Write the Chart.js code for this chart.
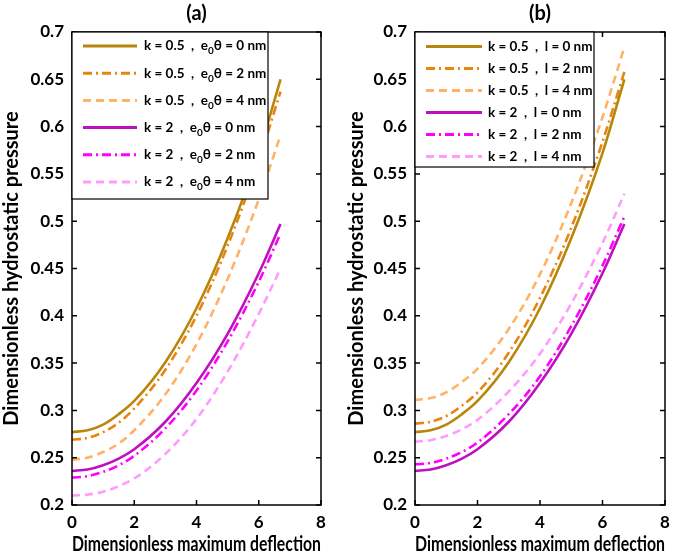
<!DOCTYPE html>
<html>
<head>
<meta charset="utf-8">
<script src="https://cdn.jsdelivr.net/npm/chart.js@4/dist/chart.umd.min.js"></script>
<style>
  body { margin: 0; background: #fff; }
  #wrap { position: relative; width: 685px; height: 557px; }
  canvas { position: absolute; top: 0; }
</style>
</head>
<body>
<div id="wrap">
  <canvas id="chartA" width="345" height="557" style="left:0"></canvas>
  <canvas id="chartB" width="340" height="557" style="left:345px"></canvas>
</div>
<script>
// deflection values (x)
var xVals = [0, 0.5, 1, 1.5, 2, 3, 4, 5, 6, 6.7];
var xTicks = [0, 2, 4, 6, 8];
var yTicks = [0.2, 0.25, 0.3, 0.35, 0.4, 0.45, 0.5, 0.55, 0.6, 0.65, 0.7];

// panel (a): nonlocal parameter e0θ
var aK05E0 = [0.277, 0.279, 0.285, 0.296, 0.310, 0.351, 0.408, 0.482, 0.572, 0.650];
var aK05E2 = [0.269, 0.271, 0.277, 0.287, 0.302, 0.343, 0.400, 0.474, 0.564, 0.637];
var aK05E4 = [0.248, 0.250, 0.256, 0.265, 0.279, 0.317, 0.370, 0.439, 0.523, 0.591];
var aK2E0 = [0.236, 0.2375, 0.242, 0.249, 0.259, 0.288, 0.329, 0.381, 0.445, 0.497];
var aK2E2 = [0.229, 0.2305, 0.235, 0.242, 0.252, 0.281, 0.321, 0.373, 0.436, 0.487];
var aK2E4 = [0.210, 0.211, 0.214, 0.220, 0.228, 0.254, 0.291, 0.341, 0.402, 0.450];

// panel (b): length scale l
var bK05L0 = [0.277, 0.279, 0.285, 0.296, 0.310, 0.351, 0.408, 0.482, 0.572, 0.650];
var bK05L2 = [0.286, 0.288, 0.294, 0.305, 0.319, 0.361, 0.419, 0.493, 0.584, 0.658];
var bK05L4 = [0.311, 0.313, 0.319, 0.330, 0.344, 0.386, 0.444, 0.519, 0.610, 0.684];
var bK2L0 = [0.236, 0.2375, 0.242, 0.249, 0.259, 0.288, 0.329, 0.381, 0.445, 0.497];
var bK2L2 = [0.243, 0.2445, 0.249, 0.256, 0.266, 0.296, 0.336, 0.389, 0.453, 0.505];
var bK2L4 = [0.267, 0.2685, 0.273, 0.280, 0.290, 0.320, 0.360, 0.413, 0.477, 0.529];

var labelsA = ["k = 0.5  ,  e_0θ = 0 nm", "k = 0.5  ,  e_0θ = 2 nm", "k = 0.5  ,  e_0θ = 4 nm",
               "k = 2  ,  e_0θ = 0 nm", "k = 2  ,  e_0θ = 2 nm", "k = 2  ,  e_0θ = 4 nm"];
var labelsB = ["k = 0.5  ,  l = 0 nm", "k = 0.5  ,  l = 2 nm", "k = 0.5  ,  l = 4 nm",
               "k = 2  ,  l = 0 nm", "k = 2  ,  l = 2 nm", "k = 2  ,  l = 4 nm"];

var colors = ["#B8860B", "#E8850F", "#FFB266", "#BF10BF", "#FF00FF", "#FF9BFF"];
var dashes = [[], [9, 4, 2, 4], [8, 5], [], [9, 4, 2, 4], [8, 5]];

var FONT = "Lato, 'Open Sans', sans-serif";

function pts(ys) {
    return xVals.map(function (x, i) { return { x: x, y: ys[i] }; });
}

function makeSets(series, labels) {
    return series.map(function (s, i) {
        return {
            label: labels[i],
            data: pts(s),
            borderColor: colors[i],
            borderDash: dashes[i],
            borderWidth: 2.6,
            pointRadius: 0,
            fill: false,
            cubicInterpolationMode: 'monotone'
        };
    });
}

// draw a label, "_0" becomes a subscript 0
function drawLabel(ctx, text, x, y, size) {
    var parts = text.split("_0");
    ctx.font = "bold " + size + "px " + FONT;
    ctx.textBaseline = 'middle';
    ctx.textAlign = 'left';
    ctx.fillStyle = '#000';
    ctx.fillText(parts[0], x, y);
    if (parts.length > 1) {
        var w = ctx.measureText(parts[0]).width;
        ctx.font = "bold " + Math.round(size * 0.75) + "px " + FONT;
        ctx.fillText("0", x + w, y + size * 0.38);
        var w2 = ctx.measureText("0").width;
        ctx.font = "bold " + size + "px " + FONT;
        ctx.fillText(parts[1], x + w + w2, y);
    }
}

var framePlugin = {
    id: 'frame',
    afterDatasetsDraw: function (chart, args, opts) {
        var ctx = chart.ctx, a = chart.chartArea;
        var xs = chart.scales.x, ys = chart.scales.y;
        ctx.save();
        ctx.strokeStyle = '#000';
        ctx.lineWidth = 1.5;
        ctx.setLineDash([]);
        ctx.strokeRect(a.left, a.top, a.right - a.left, a.bottom - a.top);
        ctx.beginPath();
        xTicks.forEach(function (v) {
            var px = xs.getPixelForValue(v);
            ctx.moveTo(px, a.bottom); ctx.lineTo(px, a.bottom - 5);
            ctx.moveTo(px, a.top); ctx.lineTo(px, a.top + 5);
        });
        yTicks.forEach(function (v) {
            var py = ys.getPixelForValue(v);
            ctx.moveTo(a.left, py); ctx.lineTo(a.left + 5, py);
            ctx.moveTo(a.right, py); ctx.lineTo(a.right - 5, py);
        });
        ctx.stroke();

        // legend box over the curves
        var L = opts.legend;
        ctx.fillStyle = '#fff';
        ctx.fillRect(L.x, L.y, L.w, L.h);
        ctx.lineWidth = 1.2;
        ctx.strokeRect(L.x, L.y, L.w, L.h);
        chart.data.datasets.forEach(function (ds, i) {
            var yy = L.y + L.row0 + i * L.gap;
            ctx.beginPath();
            ctx.strokeStyle = ds.borderColor;
            ctx.lineWidth = 3;
            ctx.setLineDash(ds.borderDash);
            ctx.moveTo(L.x + L.l0, yy);
            ctx.lineTo(L.x + L.l1, yy);
            ctx.stroke();
            ctx.setLineDash([]);
            drawLabel(ctx, ds.label, L.x + L.tx, yy, L.size);
        });

        // panel title
        ctx.font = "bold 20px " + FONT;
        ctx.fillStyle = '#000';
        ctx.textAlign = 'center';
        ctx.textBaseline = 'middle';
        ctx.fillText(opts.title, (a.left + a.right) / 2, 14);
        ctx.restore();
    }
};

function makeChart(id, sets, yWidth, padRight, legend, title) {
    var tickFont = { family: FONT, size: 17, weight: 'bold' };
    var titleFont = { family: FONT, size: 20, weight: 'bold' };
    return new Chart(document.getElementById(id).getContext('2d'), {
        type: 'line',
        data: { datasets: sets },
        options: {
            responsive: false,
            animation: false,
            layout: { padding: { top: 32, right: padRight, left: 0, bottom: 0 } },
            plugins: {
                legend: { display: false },
                tooltip: { enabled: false },
                frame: { legend: legend, title: title }
            },
            scales: {
                x: {
                    type: 'linear', min: 0, max: 8,
                    afterBuildTicks: function (s) { s.ticks = xTicks.map(function (v) { return { value: v }; }); },
                    afterFit: function (s) { s.height = 52; },
                    grid: { drawOnChartArea: false, drawTicks: false },
                    border: { display: false },
                    ticks: { color: '#000', font: tickFont, padding: 7, maxRotation: 0 },
                    title: { display: true, text: 'Dimensionless maximum deflection', color: '#000', font: titleFont, padding: { top: 0, bottom: 0 } }
                },
                y: {
                    type: 'linear', min: 0.2, max: 0.7,
                    afterBuildTicks: function (s) { s.ticks = yTicks.map(function (v) { return { value: v }; }); },
                    afterFit: function (s) { s.width = yWidth; },
                    grid: { drawOnChartArea: false, drawTicks: false },
                    border: { display: false },
                    ticks: {
                        color: '#000', font: tickFont, padding: 8,
                        callback: function (v) { return String(Number(v.toFixed(2))); }
                    },
                    title: { display: true, text: 'Dimensionless hydrostatic pressure', color: '#000', font: titleFont, padding: { top: 0, bottom: 0 } }
                }
            }
        },
        plugins: [framePlugin]
    });
}

makeChart('chartA',
    makeSets([aK05E0, aK05E2, aK05E4, aK2E0, aK2E2, aK2E4], labelsA),
    72, 24,
    { x: 72, y: 32, w: 196, h: 167, row0: 14, gap: 27.2, l0: 11, l1: 65, tx: 72, size: 13.5 },
    '(a)');

makeChart('chartB',
    makeSets([bK05L0, bK05L2, bK05L4, bK2L0, bK2L2, bK2L4], labelsB),
    70, 20,
    { x: 70, y: 32, w: 179, h: 135, row0: 14.5, gap: 22, l0: 11, l1: 67, tx: 73, size: 13.5 },
    '(b)');
</script>
</body>
</html>
